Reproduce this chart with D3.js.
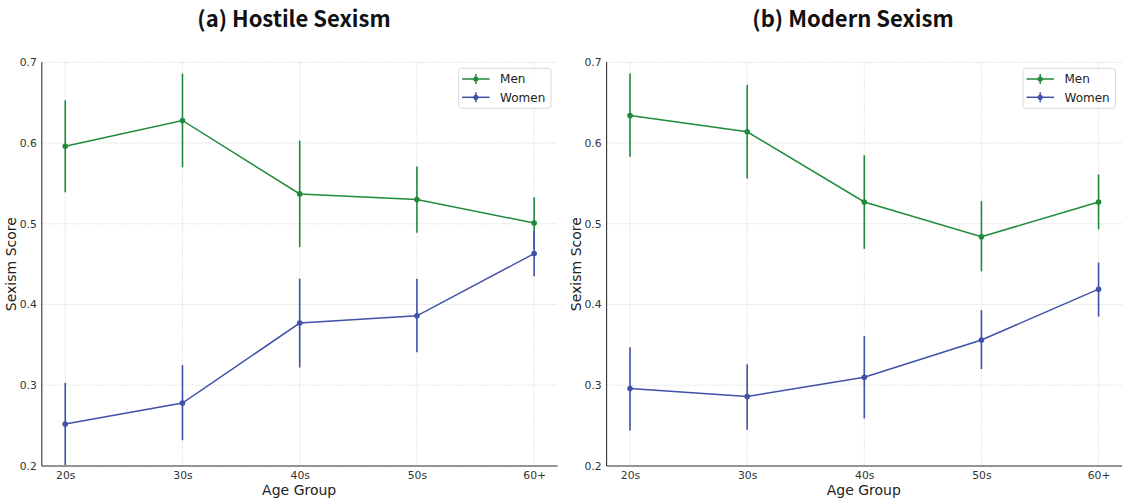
<!DOCTYPE html>
<html><head><meta charset="utf-8">
<script src="https://cdn.jsdelivr.net/npm/d3@7"></script>
<style>
html,body{margin:0;padding:0;background:#fff;}
svg{display:block;}
</style>
</head><body>
<svg id="chart" width="1122" height="500"></svg>
<script>
const ageGroups = ["20s","30s","40s","50s","60+"];
const yTicks = [0.2,0.3,0.4,0.5,0.6,0.7];
const seriesNames = ["Men","Women"];
const panelTitles = ["(a) Hostile Sexism","(b) Modern Sexism"];

// (a) Hostile Sexism
const hostileMen      = [0.596, 0.628, 0.537, 0.530, 0.501];
const hostileMenLo    = [0.539, 0.570, 0.471, 0.489, 0.469];
const hostileMenHi    = [0.653, 0.686, 0.603, 0.571, 0.533];
const hostileWomen    = [0.252, 0.278, 0.377, 0.386, 0.463];
const hostileWomenLo  = [0.201, 0.232, 0.322, 0.341, 0.435];
const hostileWomenHi  = [0.303, 0.325, 0.432, 0.432, 0.491];

// (b) Modern Sexism
const modernMen       = [0.634, 0.614, 0.527, 0.484, 0.527];
const modernMenLo     = [0.583, 0.556, 0.469, 0.441, 0.493];
const modernMenHi     = [0.686, 0.672, 0.585, 0.528, 0.561];
const modernWomen     = [0.296, 0.286, 0.310, 0.356, 0.419];
const modernWomenLo   = [0.244, 0.245, 0.259, 0.320, 0.385];
const modernWomenHi   = [0.347, 0.326, 0.361, 0.393, 0.452];

const colors = {Men:"#1f8a3b", Women:"#3f51a8"};

const panels = [
  {title:panelTitles[0], x0:41.8, x1:557.6, titleX:294,
   series:[{name:"Men", v:hostileMen, lo:hostileMenLo, hi:hostileMenHi},
           {name:"Women", v:hostileWomen, lo:hostileWomenLo, hi:hostileWomenHi}]},
  {title:panelTitles[1], x0:606.6, x1:1122, titleX:853,
   series:[{name:"Men", v:modernMen, lo:modernMenLo, hi:modernMenHi},
           {name:"Women", v:modernWomen, lo:modernWomenLo, hi:modernWomenHi}]}
];

const svg = d3.select("#chart");
const yTop = 62.3, yBot = 466;
const tickFont = "DejaVu Sans, sans-serif";

panels.forEach((p, pi) => {
  const x = d3.scalePoint().domain(ageGroups).range([p.x0, p.x1]).padding(0.2);
  const y = d3.scaleLinear().domain([0.2, 0.7]).range([yBot, yTop]);
  const g = svg.append("g");

  // grid
  g.append("g").selectAll("line").data(yTicks).join("line")
    .attr("x1", p.x0).attr("x2", p.x1)
    .attr("y1", d => y(d)).attr("y2", d => y(d))
    .attr("stroke", "#e2e2e2").attr("stroke-width", 0.9).attr("stroke-dasharray", "2,1");
  g.append("g").selectAll("line").data(ageGroups).join("line")
    .attr("x1", d => x(d)).attr("x2", d => x(d))
    .attr("y1", yTop).attr("y2", yBot)
    .attr("stroke", "#e2e2e2").attr("stroke-width", 0.9).attr("stroke-dasharray", "2,1");

  // axes
  const xAxis = g.append("g").attr("transform", `translate(0,${yBot})`)
    .call(d3.axisBottom(x).tickSize(0).tickPadding(5));
  const yAxis = g.append("g").attr("transform", `translate(${p.x0},0)`)
    .call(d3.axisLeft(y).tickValues(yTicks).tickSize(0).tickPadding(5).tickFormat(d3.format(".1f")));
  [xAxis, yAxis].forEach(a => {
    a.select(".domain").attr("stroke", "#333").attr("stroke-width", 1.1);
    a.selectAll("text").attr("font-family", tickFont).attr("font-size", 10.8).attr("fill", "#333");
  });
  xAxis.selectAll(".domain").attr("d", `M${p.x0},0H${p.x1}`);
  yAxis.selectAll(".domain").attr("d", `M0,${yTop}V${yBot}`);

  // labels
  g.append("text").attr("x", (p.x0 + p.x1) / 2 - 0.5).attr("y", 495)
    .attr("text-anchor", "middle").attr("font-family", tickFont).attr("font-size", 14)
    .attr("fill", "#222").text("Age Group");
  g.append("text").attr("transform", `translate(${p.x0 - 26},${(yTop + yBot) / 2}) rotate(-90)`)
    .attr("text-anchor", "middle").attr("font-family", tickFont).attr("font-size", 14)
    .attr("fill", "#222").text("Sexism Score");
  g.append("text").attr("x", p.titleX).attr("y", 27)
    .attr("text-anchor", "middle").attr("font-family", "'Noto Sans CJK JP', 'Noto Sans', sans-serif")
    .attr("font-weight", "bold").attr("font-size", 22).attr("fill", "#111").text(p.title);

  // series
  const plot = g.append("g");
  p.series.forEach(s => {
    const c = colors[s.name];
    const pts = ageGroups.map((a, i) => ({a, v:s.v[i], lo:s.lo[i], hi:s.hi[i]}));
    plot.append("g").selectAll("line").data(pts).join("line")
      .attr("x1", d => x(d.a)).attr("x2", d => x(d.a))
      .attr("y1", d => y(d.lo)).attr("y2", d => y(d.hi))
      .attr("stroke", c).attr("stroke-width", 1.6);
    plot.append("path").datum(pts)
      .attr("d", d3.line().x(d => x(d.a)).y(d => y(d.v)))
      .attr("fill", "none").attr("stroke", c).attr("stroke-width", 1.5);
    plot.append("g").selectAll("circle").data(pts).join("circle")
      .attr("cx", d => x(d.a)).attr("cy", d => y(d.v)).attr("r", 2.8).attr("fill", c);
  });

  // legend
  const lx = p.x1 - 99, ly = 68.3;
  const lg = g.append("g");
  lg.append("rect").attr("x", lx).attr("y", ly).attr("width", 92.4).attr("height", 40)
    .attr("rx", 3).attr("fill", "rgba(255,255,255,0.8)").attr("stroke", "#d0d0d0").attr("stroke-width", 0.8);
  seriesNames.forEach((n, i) => {
    const cy = ly + 10.7 + i * 18.3;
    const c = colors[n];
    lg.append("line").attr("x1", lx + 3.5).attr("x2", lx + 31).attr("y1", cy).attr("y2", cy)
      .attr("stroke", c).attr("stroke-width", 1.5);
    lg.append("line").attr("x1", lx + 17.2).attr("x2", lx + 17.2).attr("y1", cy - 5).attr("y2", cy + 5)
      .attr("stroke", c).attr("stroke-width", 1.5);
    lg.append("circle").attr("cx", lx + 17.2).attr("cy", cy).attr("r", 2.6).attr("fill", c);
    lg.append("text").attr("x", lx + 41.5).attr("y", cy + 4.3)
      .attr("font-family", tickFont).attr("font-size", 12).attr("fill", "#222").text(n);
  });
});
</script>
</body></html>
